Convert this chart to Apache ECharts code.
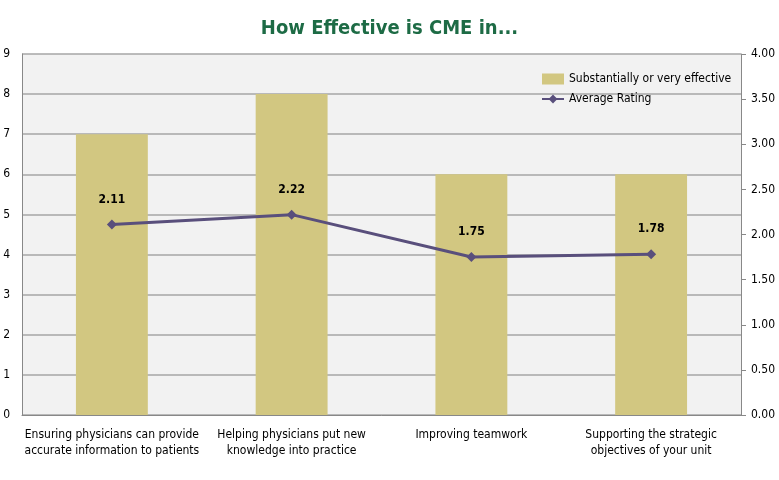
<!DOCTYPE html>
<html>
<head>
<meta charset="utf-8">
<script src="https://cdn.jsdelivr.net/npm/echarts@6/dist/echarts.min.js"></script>
<style>
html,body{margin:0;padding:0;background:#fff;}
#main{width:779px;height:480px;}
</style>
</head>
<body>
<div id="main"></div>
<script>
// categories / series
var categories = [
    'Ensuring physicians can provide\naccurate information to patients',
    'Helping physicians put new\nknowledge into practice',
    'Improving teamwork',
    'Supporting the strategic\nobjectives of your unit'
];
var effectiveCounts = [7, 8, 6, 6];
var averageRating = [2.11, 2.22, 1.75, 1.78];
var leftTicks = [0, 9, 1];
var rightTicks = [0, 4, 0.5];

var fontFam = '"Liberation Sans Narrow", "DejaVu Sans Condensed", sans-serif';

var _chart = document.getElementById('main');
var myChart = echarts.init(_chart);

var option = {
    backgroundColor: '#ffffff',
    animation: false,
    title: {
        text: 'How Effective is CME in...',
        left: 'center',
        top: 14,
        textStyle: {
            color: '#1d6b45',
            fontSize: 20,
            fontWeight: 'bold',
            fontFamily: fontFam
        }
    },
    legend: {
        orient: 'vertical',
        left: 536,
        top: 68,
        itemGap: 8,
        itemWidth: 22,
        itemHeight: 11,
        textStyle: {color: '#000', fontSize: 12, fontFamily: fontFam},
        data: [
            {name: 'Substantially or very effective', icon: 'rect'},
            {name: 'Average Rating'}
        ]
    },
    grid: {
        left: 22,
        right: 38,
        top: 54,
        bottom: 65,
        show: true,
        backgroundColor: '#f2f2f2',
        borderWidth: 0
    },
    xAxis: [{
        type: 'category',
        data: categories,
        axisLine: {show: true, lineStyle: {color: '#888', width: 1}},
        axisTick: {show: false},
        axisLabel: {
            interval: 0,
            margin: 12,
            color: '#000',
            fontSize: 12,
            lineHeight: 16,
            fontFamily: fontFam
        }
    }],
    yAxis: [
        {
            type: 'value',
            min: leftTicks[0],
            max: leftTicks[1],
            interval: leftTicks[2],
            axisLine: {show: true, lineStyle: {color: '#888'}},
            axisTick: {show: false},
            splitLine: {show: true, lineStyle: {color: '#a6a6a6', width: 1.5}},
            axisLabel: {color: '#000', fontSize: 12, margin: 12, fontFamily: fontFam}
        },
        {
            type: 'value',
            min: rightTicks[0],
            max: rightTicks[1],
            interval: rightTicks[2],
            position: 'right',
            axisLine: {show: true, lineStyle: {color: '#888'}},
            axisTick: {show: true, length: 5, lineStyle: {color: '#888'}},
            splitLine: {show: false},
            axisLabel: {
                color: '#000',
                fontSize: 12,
                margin: 10,
                fontFamily: fontFam,
                formatter: function(v){ return v.toFixed(2); }
            }
        }
    ],
    series: [
        {
            name: 'Substantially or very effective',
            type: 'bar',
            yAxisIndex: 0,
            barWidth: '40%',
            itemStyle: {color: '#d2c781'},
            data: effectiveCounts
        },
        {
            name: 'Average Rating',
            type: 'line',
            yAxisIndex: 1,
            symbol: 'diamond',
            symbolSize: 10,
            lineStyle: {color: '#594f7c', width: 3},
            itemStyle: {color: '#594f7c'},
            label: {
                show: true,
                position: 'top',
                distance: 14,
                color: '#000',
                fontWeight: 'bold',
                fontSize: 12,
                fontFamily: fontFam,
                formatter: function(p){ return p.value.toFixed(2); }
            },
            data: averageRating
        }
    ]
};

myChart.setOption(option);
</script>
</body>
</html>
